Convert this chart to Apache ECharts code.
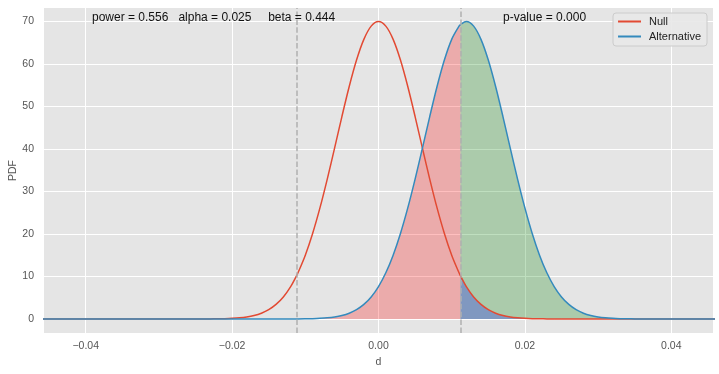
<!DOCTYPE html>
<html><head><meta charset="utf-8">
<script src="https://cdn.jsdelivr.net/npm/echarts@6/dist/echarts.min.js"></script>
<style>html,body{margin:0;padding:0;background:#fff}#c{width:719px;height:374px}</style>
</head><body><div id="c"></div>
<script>
const xs = [-0.046, -0.025, -0.024, -0.023, -0.022, -0.021, -0.020, -0.019, -0.018, -0.017, -0.016, -0.015, -0.014, -0.013, -0.012,
  -0.0112,
  -0.011, -0.010, -0.009, -0.008, -0.007, -0.006, -0.005, -0.004, -0.003, -0.002, -0.001, 0.000, 0.001, 0.002, 0.003, 0.004, 0.005, 0.006, 0.007, 0.008, 0.009, 0.010, 0.011,
  0.0112,
  0.012, 0.013, 0.014, 0.015, 0.016, 0.017, 0.018, 0.019, 0.020, 0.021, 0.022, 0.023, 0.024, 0.025, 0.026, 0.027, 0.028, 0.029, 0.030, 0.031, 0.032, 0.033, 0.034, 0.035, 0.036, 0.037,
  0.046];
const nullPdf = [0, 0, 0.01, 0.02, 0.04, 0.08, 0.15, 0.27, 0.48, 0.82, 1.36, 2.19, 3.43, 5.19, 7.63,
  10.16,
  10.87, 15.02, 20.13, 26.14, 32.93, 40.23, 47.65, 54.73, 60.95, 65.82, 68.93, 70.0, 68.93, 65.82, 60.95, 54.73, 47.65, 40.23, 32.93, 26.14, 20.13, 15.02, 10.87,
  10.16,
  7.63, 5.19, 3.43, 2.19, 1.36, 0.82, 0.48, 0.27, 0.15, 0.08, 0.04, 0.02, 0.01, 0, 0, 0, 0, 0, 0, 0, 0, 0, 0, 0, 0, 0,
  0];
const altPdf = [0, 0, 0, 0, 0, 0, 0, 0, 0, 0, 0, 0, 0, 0, 0.01,
  0.02,
  0.02, 0.04, 0.08, 0.15, 0.27, 0.48, 0.82, 1.36, 2.19, 3.43, 5.19, 7.63, 10.87, 15.02, 20.13, 26.14, 32.93, 40.23, 47.65, 54.73, 60.95, 65.82, 68.93,
  69.31,
  70.0, 68.93, 65.82, 60.95, 54.73, 47.65, 40.23, 32.93, 26.14, 20.13, 15.02, 10.87, 7.63, 5.19, 3.43, 2.19, 1.36, 0.82, 0.48, 0.27, 0.15, 0.08, 0.04, 0.02, 0.01, 0,
  0];
const critLo = -0.0112;
const critHi = 0.0112;
const xTickValues = [-0.04, -0.02, 0, 0.02, 0.04];
const xTickLabels = ['\u22120.04', '\u22120.02', '0.00', '0.02', '0.04'];
const yTickValues = [0, 10, 20, 30, 40, 50, 60, 70];
const yTickLabels = ['0', '10', '20', '30', '40', '50', '60', '70'];
const statsText = 'power = 0.556   alpha = 0.025     beta = 0.444';
const pText = 'p-value = 0.000';

const X_MIN = -0.0457, X_MAX = 0.0457, Y_MIN = -3.3, Y_MAX = 73.2;
const FONT = '"Liberation Sans", Arial, sans-serif';
const SMOOTH = 0.35;
const pairs = ys => xs.map((x, i) => [x, ys[i]]);
const nullData = pairs(nullPdf);
const altData = pairs(altPdf);
const betaData = altData.filter(p => p[0] <= critHi);
const powerData = altData.filter(p => p[0] >= critHi);
const alphaData = nullData.filter(p => p[0] >= critHi);
const lookup = (vals, labels) => v => { const i = vals.findIndex(t => Math.abs(t - v) < 1e-9); return i >= 0 ? labels[i] : ''; };

const chart = echarts.init(document.getElementById('c'), null, {renderer: 'canvas'});
const fillSeries = (name, data, color, z) => ({
  name, type: 'line', data, symbol: 'none', silent: true, z, smooth: SMOOTH,
  lineStyle: {width: 0}, areaStyle: {color, opacity: 1}, animation: false
});
const critLine = x => [{coord: [x, Y_MIN]}, {coord: [x, Y_MAX]}];
chart.setOption({
  animation: false,
  grid: {left: 44, right: 6, top: 8, bottom: 41, show: true, backgroundColor: '#E5E5E5', borderWidth: 0, outerBoundsMode: 'none', containLabel: false},
  xAxis: {
    type: 'value', min: X_MIN, max: X_MAX,
    axisLine: {show: false},
    axisTick: {show: false, customValues: xTickValues},
    axisLabel: {customValues: xTickValues, formatter: lookup(xTickValues, xTickLabels), color: '#555555', fontSize: 10.5, fontFamily: FONT, margin: 8},
    splitLine: {show: true, lineStyle: {color: '#ffffff', width: 1}},
    name: 'd', nameLocation: 'middle', nameGap: 24, nameMoveOverlap: false,
    nameTextStyle: {color: '#555555', fontSize: 10.5, fontFamily: FONT}
  },
  yAxis: {
    type: 'value', min: Y_MIN, max: Y_MAX,
    axisLine: {show: false},
    axisTick: {show: false, customValues: yTickValues},
    axisLabel: {customValues: yTickValues, formatter: lookup(yTickValues, yTickLabels), color: '#555555', fontSize: 10.5, fontFamily: FONT, margin: 10},
    splitLine: {show: true, lineStyle: {color: '#ffffff', width: 1}},
    name: 'PDF', nameLocation: 'middle', nameGap: 25, nameMoveOverlap: false,
    nameTextStyle: {color: '#555555', fontSize: 10.5, fontFamily: FONT}
  },
  legend: {
    data: ['Null', 'Alternative'], orient: 'vertical', right: 12, top: 13,
    padding: [3, 6, 4, 5], itemGap: 4, itemWidth: 23, itemHeight: 2, icon: 'rect',
    backgroundColor: 'rgba(232,232,232,0.9)', borderColor: '#cccccc', borderWidth: 1, borderRadius: 3,
    textStyle: {color: '#222', fontSize: 11, fontFamily: FONT, padding: [0, 0, 0, 3]}
  },
  graphic: [
    {type: 'text', left: 92, top: 12, z: 100, style: {text: statsText, font: '12px ' + FONT, fill: '#111'}},
    {type: 'text', left: 503, top: 12, z: 100, style: {text: pText, font: '12px ' + FONT, fill: '#111'}}
  ],
  series: [
    fillSeries('beta', betaData, 'rgba(255,0,0,0.25)', 1),
    fillSeries('power', powerData, 'rgba(0,128,0,0.25)', 1),
    fillSeries('alphaFill', alphaData, 'rgba(0,0,255,0.25)', 1),
    {
      name: 'crit', type: 'line', data: [], z: 2, silent: true,
      markLine: {
        symbol: 'none', silent: true, animation: false,
        label: {show: false},
        lineStyle: {color: '#b0b0b0', width: 1.5, type: [5.5, 2.4]},
        data: [critLine(critLo), critLine(critHi)]
      }
    },
    {name: 'Null', type: 'line', data: nullData, symbol: 'none', z: 3, smooth: SMOOTH, color: '#E24A33', lineStyle: {color: '#E24A33', width: 1.5}},
    {name: 'Alternative', type: 'line', data: altData, symbol: 'none', z: 4, smooth: SMOOTH, color: '#348ABD', lineStyle: {color: '#348ABD', width: 1.5}}
  ]
});
</script>
</body></html>
